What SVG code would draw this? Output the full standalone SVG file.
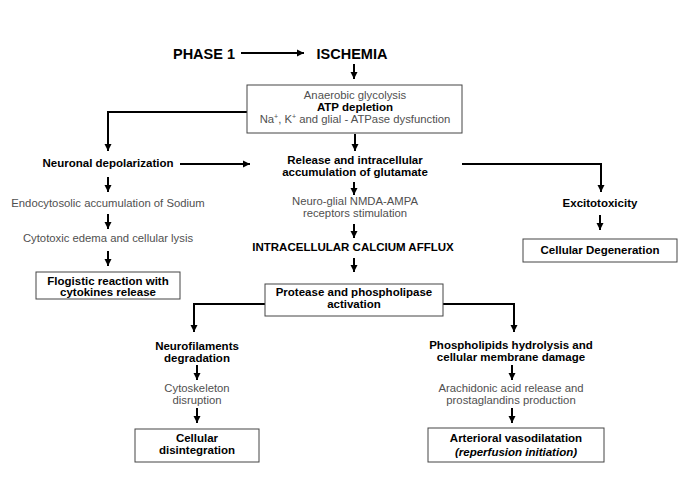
<svg xmlns="http://www.w3.org/2000/svg" width="685" height="480" viewBox="0 0 685 480">
<defs>
<marker id="ah" markerUnits="userSpaceOnUse" markerWidth="8" markerHeight="8" refX="7" refY="4" orient="auto">
<path d="M0,0.5 L7,4 L0,7.5 z" fill="#000"/>
</marker>
<style>
text{font-family:"Liberation Sans",Arial,sans-serif;text-anchor:middle;font-size:11.3px;fill:#000}
.b{font-weight:bold;font-size:11.5px}
.g{fill:#505050}
.t{font-weight:bold;font-size:14.5px}
.box{fill:#fff;stroke:#444;stroke-width:1}
.c{fill:none;stroke:#000;stroke-width:2;marker-end:url(#ah)}
</style>
</defs>
<rect width="685" height="480" fill="#fff"/>
<g id="connectors">
<path class="c" d="M241,53 H304"/>
<path class="c" d="M354,64 V79"/>
<path class="c" d="M247,112 H108 V151"/>
<path class="c" d="M355,134 V151"/>
<path class="c" d="M180,164 H250"/>
<path class="c" d="M462,164 H601 V192"/>
<path class="c" d="M108,177 V192"/>
<path class="c" d="M108,214 V229"/>
<path class="c" d="M108,251 V266"/>
<path class="c" d="M354,182 V195"/>
<path class="c" d="M354,224 V238"/>
<path class="c" d="M354,258 V272"/>
<path class="c" d="M600,215 V230"/>
<path class="c" d="M265,304 H194 V332"/>
<path class="c" d="M443,304 H514 V332"/>
<path class="c" d="M197,365 V380"/>
<path class="c" d="M197,408 V423"/>
<path class="c" d="M512,365 V380"/>
<path class="c" d="M512,408 V423"/>
</g>
<g id="phase1"><text class="t" x="204" y="59">PHASE 1</text></g>
<g id="ischemia"><text class="t" x="352" y="59">ISCHEMIA</text></g>
<g id="atp">
<rect class="box" x="247" y="85" width="215" height="48"/>
<text class="g" x="355" y="99">Anaerobic glycolysis</text>
<text class="b" x="355" y="111">ATP depletion</text>
<text class="g" x="355" y="123">Na<tspan font-size="7" dy="-4">+</tspan><tspan dy="4">, K</tspan><tspan font-size="7" dy="-4">+</tspan><tspan dy="4"> and glial - ATPase dysfunction</tspan></text>
</g>
<g id="neuronal"><text class="b" x="108" y="167">Neuronal depolarization</text></g>
<g id="sodium"><text class="g" x="108" y="207">Endocytosolic accumulation of Sodium</text></g>
<g id="edema"><text class="g" x="108" y="242">Cytotoxic edema and cellular lysis</text></g>
<g id="flogistic">
<rect class="box" x="36" y="272" width="144" height="27"/>
<text class="b" x="108" y="284.5">Flogistic reaction with</text>
<text class="b" x="108" y="296">cytokines release</text>
</g>
<g id="glutamate">
<text class="b" x="355" y="164">Release and intracellular</text>
<text class="b" x="355" y="176">accumulation of glutamate</text>
</g>
<g id="nmda">
<text class="g" x="355" y="205">Neuro-glial NMDA-AMPA</text>
<text class="g" x="355" y="217">receptors stimulation</text>
</g>
<g id="calcium"><text class="b" x="353" y="251">INTRACELLULAR CALCIUM AFFLUX</text></g>
<g id="excito"><text class="b" x="600" y="207">Excitotoxicity</text></g>
<g id="degeneration">
<rect class="box" x="523" y="239" width="154" height="23"/>
<text class="b" x="600" y="254">Cellular Degeneration</text>
</g>
<g id="protease">
<rect class="box" x="265" y="284" width="178" height="32"/>
<text class="b" x="354" y="296">Protease and phospholipase</text>
<text class="b" x="354" y="307.5">activation</text>
</g>
<g id="neurofil">
<text class="b" x="197" y="350">Neurofilaments</text>
<text class="b" x="197" y="361.5">degradation</text>
</g>
<g id="cytoskeleton">
<text class="g" x="197" y="392">Cytoskeleton</text>
<text class="g" x="197" y="403.5">disruption</text>
</g>
<g id="disintegration">
<rect class="box" x="135" y="429" width="124" height="33"/>
<text class="b" x="197" y="442">Cellular</text>
<text class="b" x="197" y="453.5">disintegration</text>
</g>
<g id="phospholipids">
<text class="b" x="511" y="349">Phospholipids hydrolysis and</text>
<text class="b" x="511" y="360.5">cellular membrane damage</text>
</g>
<g id="arachidonic">
<text class="g" x="511" y="392">Arachidonic acid release and</text>
<text class="g" x="511" y="404">prostaglandins production</text>
</g>
<g id="vasodilatation">
<rect class="box" x="428" y="428" width="176" height="34"/>
<text class="b" x="516" y="442">Arterioral vasodilatation</text>
<text class="b" x="516" y="456" font-style="italic">(reperfusion initiation)</text>
</g>
</svg>
